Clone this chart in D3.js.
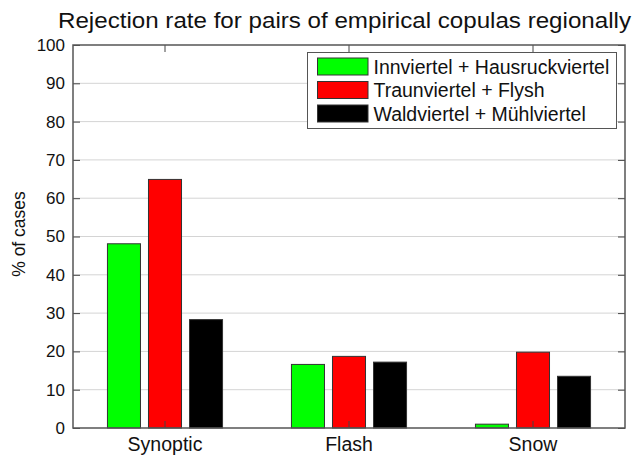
<!DOCTYPE html>
<head>
<meta charset='utf-8'>
<title>Rejection rate</title>
<script src='https://d3js.org/d3.v7.min.js'></script>
<style>
  html, body { margin: 0; padding: 0; background: white; }
  svg { display: block; font-family: 'Liberation Sans', Arial, sans-serif; }
  text { fill: #111; }
</style>
</head>
<body>
<div id='chart'></div>
<script>
var categories = ['Synoptic', 'Flash', 'Snow'];
var seriesNames = ['Innviertel + Hausruckviertel', 'Traunviertel + Flysh', 'Waldviertel + Mühlviertel'];
var seriesColors = ['#00ff00', '#ff0000', '#000000'];
var innHausruck = [48.1, 16.6, 1.0];
var traunFlysh = [64.9, 18.7, 19.8];
var waldMuehl = [28.3, 17.2, 13.5];
var yTicks = [0, 10, 20, 30, 40, 50, 60, 70, 80, 90, 100];

var series = [innHausruck, traunFlysh, waldMuehl];

var W = 641, H = 455;
var m = {left: 73, right: 16, top: 45, bottom: 27};
var iw = W - m.left - m.right, ih = H - m.top - m.bottom;

var svg = d3.select('#chart').append('svg').attr('width', W).attr('height', H);
var g = svg.append('g').attr('transform', 'translate(' + m.left + ',' + m.top + ')');

var y = d3.scaleLinear().domain([0, 100]).range([ih, 0]);
var x0 = d3.scaleBand().domain(categories).range([0, iw]);
// bar slots inside each category, centred on the category
var step = x0.bandwidth() * 0.223;
var x1 = d3.scaleBand().domain(d3.range(series.length))
    .range([x0.bandwidth() / 2 - 1.5 * step, x0.bandwidth() / 2 + 1.5 * step])
    .paddingInner(0.195).paddingOuter(0.0975);

// grid
g.selectAll('.grid').data(yTicks.slice(1, -1)).enter().append('line')
    .attr('x1', 0).attr('x2', iw)
    .attr('y1', function(d) { return y(d); }).attr('y2', function(d) { return y(d); })
    .attr('stroke', '#d4d4d4').attr('stroke-width', 1);

// bars
categories.forEach(function(c, ci) {
    series.forEach(function(s, si) {
        g.append('rect')
            .attr('x', x0(c) + x1(si))
            .attr('width', x1.bandwidth())
            .attr('y', y(s[ci]))
            .attr('height', ih - y(s[ci]))
            .attr('fill', seriesColors[si])
            .attr('stroke', '#333').attr('stroke-width', 1);
    });
});

// axes
var yAxis = d3.axisLeft(y).tickValues(yTicks).tickSize(-7).tickPadding(8);
var yAxisR = d3.axisRight(y).tickValues(yTicks).tickSize(-7).tickFormat('');
var xAxis = d3.axisBottom(x0).tickSize(-7).tickPadding(9);
var xAxisT = d3.axisTop(x0).tickSize(-7).tickFormat('');

function style(sel, fs) {
    sel.select('.domain').remove();
    sel.selectAll('line').attr('stroke', '#444');
    sel.selectAll('text').attr('font-size', fs).attr('fill', '#111')
        .attr('font-family', "'Liberation Sans', Arial, sans-serif");
}
g.append('g').call(yAxis).call(style, '17px');
g.append('g').attr('transform', 'translate(' + iw + ',0)').call(yAxisR).call(style, '17px');
g.append('g').attr('transform', 'translate(0,' + ih + ')').call(xAxis).call(style, '19.5px');
g.append('g').call(xAxisT).call(style, '17px');

g.append('rect').attr('width', iw).attr('height', ih)
    .attr('fill', 'none').attr('stroke', '#555').attr('stroke-width', 1.5);

// title and label
svg.append('text').attr('x', 58).attr('y', 28)
    .attr('font-size', '22.5px').attr('textLength', 573).attr('lengthAdjust', 'spacingAndGlyphs')
    .text('Rejection rate for pairs of empirical copulas regionally');
svg.append('text').attr('transform', 'translate(25,' + (m.top + 189) + ') rotate(-90)')
    .attr('text-anchor', 'middle').attr('font-size', '17.5px').text('% of cases');

// legend
var lg = svg.append('g').attr('transform', 'translate(307.5,52.5)');
lg.append('rect').attr('width', 309).attr('height', 76)
    .attr('fill', 'white').attr('stroke', '#555').attr('stroke-width', 1);
seriesNames.forEach(function(n, i) {
    lg.append('rect').attr('x', 10).attr('y', 5.5 + i * 23.5).attr('width', 50.5).attr('height', 17)
        .attr('fill', seriesColors[i]).attr('stroke', '#333');
    lg.append('text').attr('x', 66).attr('y', 21 + i * 23.5)
        .attr('font-size', '19.5px').text(n);
});
</script>
</body>
